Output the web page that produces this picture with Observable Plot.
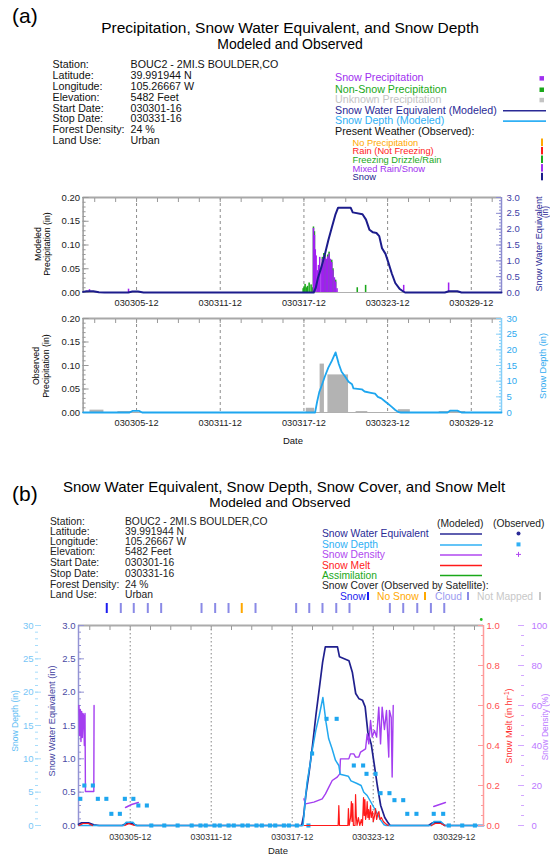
<!DOCTYPE html>
<html><head><meta charset="utf-8">
<script src="https://cdn.jsdelivr.net/npm/d3@7"></script>
<script src="https://cdn.jsdelivr.net/npm/@observablehq/plot@0.6"></script>
<style>
html,body{margin:0;padding:0;background:#fff;}
#page{position:relative;width:550px;height:856px;overflow:hidden;background:#fff;}
#page svg{position:absolute;left:0;overflow:visible;}
</style></head><body><div id="page"></div>
<script>
// ---------------- data ----------------
const tickLabels = ["030305-12","030311-12","030317-12","030323-12","030329-12"];
const periodLabels = ["030301-16","030331-16"];

const infoLabels = ["Station:","Latitude:","Longitude:","Elevation:","Start Date:","Stop Date:","Forest Density:","Land Use:"];
const infoValues = ["BOUC2 - 2MI.S BOULDER,CO","39.991944 N","105.26667 W","5482 Feet","030301-16","030331-16","24 %","Urban"];

// day-of-March (decimal) and values
const snowPrecipDay = [2.16,4.96,18.22,18.29,18.35,18.41,18.51,18.58,18.67,18.77,18.86,18.96,19.05,19.15,19.24,19.34,19.43,19.53,19.62,19.72,19.81,19.91,24.69,27.91];
const snowPrecipIn  = [0.006,0.007,0.135,0.12,0.09,0.077,0.046,0.057,0.074,0.05,0.07,0.077,0.074,0.07,0.075,0.081,0.07,0.063,0.046,0.031,0.022,0.008,0.015,0.02];
const nonSnowPrecipDay = [17.48,17.55,17.62,17.72,17.79,17.91,18.05,18.15,18.22,18.29,18.86,18.96,19.05,19.24,19.34,19.53,19.62,19.81,21.36,21.96];
const nonSnowPrecipIn  = [0.008,0.012,0.017,0.01,0.013,0.02,0.016,0.01,0.138,0.128,0.074,0.082,0.079,0.079,0.085,0.068,0.05,0.026,0.01,0.015];

const obsPrecipFrom = [2.16,4.16,17.67,18.66,19.22,21.24,24.27,27.2];
const obsPrecipTo   = [3.16,5.16,18.27,18.97,20.70,22.08,25.13,29.1];
const obsPrecipIn   = [0.005,0.002,0.009,0.103,0.08,0.002,0.006,0.002];

const sweDay = [1.667,1.9,2.4,2.8,3.2,4.9,5.2,5.6,6.0,18.2,18.35,18.5,18.75,19.0,19.25,19.5,19.75,19.95,20.85,21.0,21.7,21.95,22.2,22.45,22.7,22.9,23.1,23.35,23.55,23.8,24.05,24.35,24.6,24.75,27.6,27.9,28.5,28.8,31.667];
const sweIn  = [0.02,0.04,0.04,0.01,0,0,0.03,0.03,0,0,0.15,0.45,0.8,1.2,1.65,2.05,2.45,2.68,2.68,2.53,2.47,2.3,1.98,1.9,1.88,1.78,1.4,1.22,0.95,0.6,0.3,0.12,0.04,0,0,0.04,0.04,0,0];

const depthDay = [1.667,5.0,5.2,5.7,5.9,18.3,18.45,18.6,18.75,19.0,19.25,19.5,19.77,20.0,20.2,20.45,20.7,20.95,21.05,21.65,21.85,22.3,22.6,22.8,23.05,23.3,23.55,23.8,24.05,24.3,24.45,27.8,28.0,28.5,28.8,31.667];
const depthIn  = [0,0,0.5,0.5,0,0,3.5,6.5,8.3,11.5,14.3,16.5,19.2,15.5,13,11.5,9.8,9.0,7.7,7.4,6.7,6.3,6.0,5.0,4.5,3.6,2.7,1.8,0.8,0.1,0,0,0.6,0.6,0,0];

const obsDepthDay = [1.8,2.1,2.73,3.1,3.73,4.1,4.73,5.1,5.73,6.1,6.73,7.06,8.02,9.01,10.05,10.7,11.09,11.74,12.13,12.78,13.17,13.81,14.21,14.85,15.25,15.85,16.24,16.88,17.25,17.84,18.7,18.97,20.04,20.79,22.06,22.75,23.0,23.67,24.04,24.7,25.07,25.72,26.02,26.7,27.98,28.68,29.1,30.09,31.03];
const obsDepthIn  = [4,6,6,4,4,1.75,1.75,4,4,3,3,0,0,0,0,0,0,0,0,0,0,0,0,0,0,0,0,0,0,0,0,10.8,16,16,9,9,7.75,7.75,4.85,4.85,3.8,3.8,1.75,1.75,1.75,1.75,0,0,0];

const densityDay = [1.7,1.75,1.8,1.85,1.9,1.95,2.0,2.05,2.1,2.15,2.18,2.8,2.82,2.83,5.15,5.6,6.1,6.11,18.36,18.48,19.1,19.72,19.96,20.21,20.46,20.83,21.02,21.07,21.69,21.81,22.06,22.19,22.43,22.56,22.93,23.05,23.17,23.3,23.42,23.59,23.75,23.91,24.04,24.16,24.33,24.48,24.65,24.7,24.83,24.9,24.98,24.99,27.98,28.85];
const densityPct = [60,45,58,42,57,44,56,55,40,56,17,17,60,null,9,10.5,11.5,null,13.3,10.8,11.7,13.3,15.8,19.2,22.5,24.2,25.8,33.3,33.3,35.8,35.8,34.2,34.2,36.7,38.3,45.8,40.8,52.5,44.2,47.5,44.2,59.2,40.8,59.2,48,57.5,34.2,57.5,54,24.2,60,null,9.5,11.5];

const meltDay = [1.7,2.0,2.4,2.7,2.71,5.1,5.4,5.8,5.81,18.4,20.9,20.95,21.0,21.62,21.66,21.72,21.82,21.88,21.93,21.98,22.03,22.15,22.19,22.24,22.3,22.4,22.5,22.62,22.7,22.78,22.83,22.88,22.93,23.0,23.05,23.1,23.15,23.2,23.3,23.35,23.45,23.5,23.6,23.67,23.75,23.85,23.92,24.0,24.1,24.25,24.4,24.6,24.61,27.8,28.1,28.5,28.8];
const meltInHr = [0,0.01,0.01,0,null,0,0.01,0,null,0,0,0.1,0,0,0.085,0,0.04,0.12,0.02,0.11,0,0,0.155,0.05,0,0.04,0,0.03,0,0.14,0.05,0.13,0.03,0.06,0.12,0.04,0.08,0.03,0.1,0.04,0.07,0.02,0.05,0.085,0.03,0.06,0.07,0.03,0.04,0.02,0.01,0,null,0,0.01,0.01,0];

const coverDay  = [3.76,4.80,5.76,6.80,7.79,10.78,11.79,12.78,13.76,14.78,17.79,18.76,19.74,20.76,21.74,24.73,25.72,26.76,27.77,28.76];
const coverType = ["Snow","Cloud","Cloud","Cloud","Cloud","Cloud","Cloud","Cloud","No Snow","Cloud","Cloud","Cloud","Cloud","Cloud","Cloud","Cloud","Cloud","Cloud","Cloud","Cloud"];
const assimDay = [31.5];

// ---------------- helpers ----------------
const FONT = '"Liberation Sans", Arial, Helvetica, sans-serif';
const page = document.getElementById("page");
const DAY = 864e5;
const toDate = d => new Date(Date.UTC(2003, 2, 1) + (d - 1) * DAY);
const parseT = d3.utcParse("%y%m%d-%H");
const fmtT = d3.utcFormat("%y%m%d-%H");
const xDomain = periodLabels.map(parseT);
const tickDates = tickLabels.map(parseT);
const minorDates = d3.range(-4, 22).map(k => new Date(+tickDates[0] + k * 1.5 * DAY)).filter(d => d > xDomain[0] && d < xDomain[1]);

const zipS = (ts, vs) => ts.map((t, i) => ({t: toDate(t), v: vs[i]}));
const snowPrecip = zipS(snowPrecipDay, snowPrecipIn);
const nonSnowPrecip = zipS(nonSnowPrecipDay, nonSnowPrecipIn);
const obsPrecip = obsPrecipFrom.map((f, i) => ({t1: toDate(f), t2: toDate(obsPrecipTo[i]), v: obsPrecipIn[i]}));
const swe = zipS(sweDay, sweIn);
const depth = zipS(depthDay, depthIn);
const obsDepth = zipS(obsDepthDay, obsDepthIn);
const density = zipS(densityDay, densityPct);
const melt = zipS(meltDay, meltInHr);
const coverColor = {"Snow": "#1c1cf0", "No Snow": "#ffa800", "Cloud": "#8a8ae6", "Not Mapped": "#c8c8c8"};
const cover = coverDay.map((d, i) => ({t: toDate(d), c: coverColor[coverType[i]]}));
const assim = assimDay.map(d => ({t: toDate(d)}));
const HALF = 0.055 * DAY;

function chart(top, height, m, yOpts, marks) {
  const svg = Plot.plot({
    width: 550, height, marginTop: m[0], marginRight: m[1], marginBottom: m[2], marginLeft: m[3],
    x: {type: "utc", domain: xDomain, axis: null},
    y: Object.assign({axis: null}, yOpts),
    marks,
    style: {background: "transparent", overflow: "visible", fontFamily: FONT, fontSize: "9.5px", color: "#000"}
  });
  svg.style.position = "absolute"; svg.style.left = "0px"; svg.style.top = top + "px";
  page.appendChild(svg);
  return svg;
}
function yAxis(anchor, major, minor, fmt, tickColor, labelColor, pad, fs) {
  return [
    Plot.axisY({anchor, ticks: minor, tickSize: -3, tickFormat: () => "", color: tickColor, label: null}),
    Plot.axisY({anchor, ticks: major, tickSize: -6, tickFormat: () => "", color: tickColor, label: null}),
    Plot.axisY({anchor, ticks: major, tickSize: 0, tickPadding: pad, tickFormat: d3.format(fmt), color: labelColor, label: null, fontSize: fs})
  ];
}
const rng = (a, b, s) => d3.range(a, b + s / 2, s).map(v => +v.toFixed(4));

// ---------------- panel (a) top: modeled precipitation + SWE ----------------
const mA = [10, 49, 25, 82.6];
chart(187, 130, mA, {domain: [0, 0.2]}, [
  Plot.ruleX(tickDates, {stroke: "#8c8c8c", strokeDasharray: "3,3"}),
  Plot.rectY(nonSnowPrecip, {x1: d => new Date(+d.t - HALF), x2: d => new Date(+d.t + HALF), y: "v", fill: "#1aa81a"}),
  Plot.rectY(snowPrecip, {x1: d => new Date(+d.t - HALF), x2: d => new Date(+d.t + HALF), y: "v", fill: "#a020f0"}),
  Plot.ruleY([0.2], {stroke: "#a8a8a8", strokeWidth: 2}),
  Plot.ruleY([0], {stroke: "#b0b0b0"}),
  Plot.ruleX([xDomain[0]], {stroke: "#9a9a9a", strokeWidth: 1.5}),
  Plot.axisX({anchor: "top", ticks: minorDates, tickSize: -4, tickFormat: () => "", color: "#999", label: null}),
  Plot.axisX({anchor: "bottom", ticks: tickDates, tickSize: 0, tickPadding: 7, tickFormat: fmtT, color: "#222", label: null, fontSize: 9.2}),
  ...yAxis("left", rng(0, 0.2, 0.05), rng(0, 0.2, 0.01), ".2f", "#999", "#1a1a1a", 3, 9.5)
]);
chart(187, 130, mA, {domain: [0, 3]}, [
  Plot.ruleX([xDomain[1]], {stroke: "#8c8cd0", strokeWidth: 1.5}),
  ...yAxis("right", rng(0, 3, 0.5), rng(0, 3, 0.1), ".1f", "#8c8cd0", "#3e3ea6", 5, 9.5),
  Plot.line(swe, {x: "t", y: "v", stroke: "#1c1c8c", strokeWidth: 2})
]);

// ---------------- panel (a) bottom: observed precipitation + depth ----------------
const mB = [10, 49, 46, 82.6];
chart(308, 150, mB, {domain: [0, 0.2]}, [
  Plot.ruleX(tickDates, {stroke: "#8c8c8c", strokeDasharray: "3,3"}),
  Plot.rectY(obsPrecip, {x1: "t1", x2: "t2", y: "v", fill: "#b3b3b3"}),
  Plot.ruleY([0.2], {stroke: "#a8a8a8", strokeWidth: 2}),
  Plot.ruleY([0], {stroke: "#b0b0b0"}),
  Plot.ruleX([xDomain[0]], {stroke: "#9a9a9a", strokeWidth: 1.5}),
  Plot.axisX({anchor: "top", ticks: minorDates, tickSize: -4, tickFormat: () => "", color: "#999", label: null}),
  Plot.axisX({anchor: "bottom", ticks: tickDates, tickSize: 0, tickPadding: 7, tickFormat: fmtT, color: "#222", label: null, fontSize: 9.2}),
  ...yAxis("left", rng(0, 0.2, 0.05), rng(0, 0.2, 0.01), ".2f", "#999", "#1a1a1a", 3, 9.5)
]);
chart(308, 150, mB, {domain: [0, 30]}, [
  Plot.ruleX([xDomain[1]], {stroke: "#86cff8", strokeWidth: 1.5}),
  ...yAxis("right", rng(0, 30, 5), rng(0, 30, 1), "d", "#86cff8", "#2eaaf0", 5, 9.5),
  Plot.line(depth, {x: "t", y: "v", stroke: "#1ea6ef", strokeWidth: 1.8})
]);

// ---------------- panel (b) ----------------
const mC = [10, 67, 30, 78];
chart(615, 240, mC, {domain: [0, 3]}, [
  Plot.ruleX(tickDates, {stroke: "#9a9a9a", strokeDasharray: "1.5,2.5", strokeWidth: 1.2}),
  Plot.ruleY([3], {stroke: "#ababab", strokeWidth: 2}),
  Plot.ruleX([xDomain[0]], {stroke: "#9494d4", strokeWidth: 1.5}),
  Plot.axisX({anchor: "top", ticks: minorDates, tickSize: -4, tickFormat: () => "", color: "#999", label: null}),
  Plot.axisX({anchor: "bottom", ticks: tickDates, tickSize: 0, tickPadding: 8, tickFormat: fmtT, color: "#333", label: null, fontSize: 8.8}),
  ...yAxis("left", rng(0, 3, 0.5), rng(0, 3, 0.1), ".1f", "#9494d4", "#4a4aa4", 3, 9.5),
  Plot.line(swe, {x: "t", y: "v", stroke: "#20208e", strokeWidth: 1.7})
]);
chart(615, 240, mC, {domain: [0, 100]}, [
  Plot.line(density, {x: "t", y: "v", stroke: "#a43ef0", strokeWidth: 1.4})
]);
chart(615, 240, mC, {domain: [0, 30]}, [
  Plot.line(depth, {x: "t", y: "v", stroke: "#22a8ef", strokeWidth: 1.5}),
  Plot.dot(obsDepth, {x: "t", y: "v", symbol: "square", fill: "#1ea6ef", r: 2.3})
]);
chart(615, 240, mC, {domain: [0, 1]}, [
  Plot.line(melt, {x: "t", y: "v", stroke: "#ff1a1a", strokeWidth: 1.2}),
  Plot.ruleX([xDomain[1]], {stroke: "#ff9b9b", strokeWidth: 1.5}),
  ...yAxis("right", rng(0, 1, 0.2), rng(0, 1, 0.05), ".1f", "#ff9b9b", "#ff5050", 3, 9.5)
]);
// separate axes for snow depth (left) and density (right)
chart(615, 240, [10, 515, 30, 35], {domain: [0, 30]}, [
  Plot.axisY({anchor: "left", ticks: [0, 30], tickSize: 0, tickFormat: () => "", label: null}),
  ...yAxis("left", rng(0, 30, 5), rng(0, 30, 1), "d", "#a6dcfb", "#78c6f6", 2, 9.5)
]);
chart(615, 240, [10, 27, 30, 500], {domain: [0, 100]}, [
  ...yAxis("right", rng(0, 100, 20), rng(0, 100, 5), "d", "#d2a6ff", "#bb77ff", 8, 9.5)
]);
// snow cover strip and assimilation marker
chart(603, 10, [0, 67, 0, 78], {}, [
  Plot.ruleX(cover, {x: "t", stroke: "c", strokeWidth: 2})
]);
chart(616, 6, [0, 67, 0, 78], {}, [
  Plot.dot(assim, {x: "t", fill: "#22bb22", r: 1.4})
]);

// ---------------- text overlay ----------------
const ov = d3.create("svg").attr("width", 550).attr("height", 856)
  .style("position", "absolute").style("left", "0px").style("top", "0px")
  .attr("font-family", FONT);
function txt(x, y, s, o = {}) {
  const t = ov.append("text").attr("x", x).attr("y", y).text(s)
    .attr("font-size", o.fs || 10.7).attr("fill", o.fill || "#111");
  if (o.anchor) t.attr("text-anchor", o.anchor);
  if (o.rot) t.attr("transform", `rotate(-90 ${x} ${y})`);
  return t;
}
// panel (a)
txt(12, 23, "(a)", {fs: 21, fill: "#000"});
txt(290, 32.6, "Precipitation, Snow Water Equivalent, and Snow Depth", {fs: 15.5, anchor: "middle", fill: "#000"});
txt(290, 48.6, "Modeled and Observed", {fs: 14, anchor: "middle", fill: "#000"});
const infoAY = [67.8, 78.8, 89.8, 100.5, 111.5, 122.1, 132.8, 143.8];
infoLabels.forEach((s, i) => { txt(52.6, infoAY[i], s); txt(130.5, infoAY[i], infoValues[i]); });
const legA = [
  ["Snow Precipitation", "#a030f0", 81.1, "sq"],
  ["Non-Snow Precipitation", "#1aa81a", 92.5, "sq"],
  ["Unknown Precipitation", "#c4c4c4", 102.8, "sq"],
  ["Snow Water Equivalent (Modeled)", "#2a2a96", 113.8, "line"],
  ["Snow Depth (Modeled)", "#30b0f5", 124.1, "line"],
  ["Present Weather (Observed):", "#111", 134.5, null]
];
legA.forEach(([s, c, y, sym]) => {
  txt(335, y, s, {fill: c});
  if (sym === "sq") ov.append("rect").attr("x", 539.5).attr("y", y - 5).attr("width", 4.5).attr("height", 4.5).attr("fill", c);
  if (sym === "line") ov.append("line").attr("x1", 503).attr("x2", 546).attr("y1", y - 3).attr("y2", y - 3).attr("stroke", c).attr("stroke-width", 1.6);
});
const legA2 = [
  ["No Precipitation", "#ffa800", 146],
  ["Rain (Not Freezing)", "#ff1a1a", 154.4],
  ["Freezing Drizzle/Rain", "#1aa81a", 163],
  ["Mixed Rain/Snow", "#a030f0", 171.6],
  ["Snow", "#1c1c8c", 180.3]
];
legA2.forEach(([s, c, y]) => {
  txt(352.6, y, s, {fs: 9.3, fill: c});
  ov.append("rect").attr("x", 541).attr("y", y - 7.5).attr("width", 2).attr("height", 7.5).attr("fill", c);
});
txt(40.5, 244, "Modeled", {fs: 8.8, anchor: "middle", rot: true, fill: "#000"});
txt(50, 244, "Precipitation (in)", {fs: 8.8, anchor: "middle", rot: true, fill: "#000"});
txt(541.5, 244, "Snow Water Equivalent", {fs: 9.2, anchor: "middle", rot: true, fill: "#2a2a96"});
txt(547.5, 212, "(in)", {fs: 8.4, anchor: "middle", rot: true, fill: "#2a2a96"});
txt(39, 366, "Observed", {fs: 8.8, anchor: "middle", rot: true, fill: "#000"});
txt(48.5, 366, "Precipitation (in)", {fs: 8.8, anchor: "middle", rot: true, fill: "#000"});
txt(545.5, 366, "Snow Depth (in)", {fs: 9.2, anchor: "middle", rot: true, fill: "#2eaaf0"});
txt(293, 443.5, "Date", {fs: 9.5, anchor: "middle", fill: "#111"});

// panel (b)
txt(12, 501, "(b)", {fs: 21, fill: "#000"});
txt(284, 492.4, "Snow Water Equivalent, Snow Depth, Snow Cover, and Snow Melt", {fs: 15, anchor: "middle", fill: "#000"});
txt(280, 507.2, "Modeled and Observed", {fs: 13.6, anchor: "middle", fill: "#000"});
const infoBY = [525.3, 535.3, 545.3, 555.3, 566.3, 576.9, 587.6, 597.6];
infoLabels.forEach((s, i) => { txt(50, infoBY[i], s, {fs: 10.3, fill: "#222"}); txt(125, infoBY[i], infoValues[i], {fs: 10.3, fill: "#222"}); });
txt(437, 527, "(Modeled)", {fs: 10.3, fill: "#222"});
txt(493, 527, "(Observed)", {fs: 10.3, fill: "#222"});
const legB = [
  ["Snow Water Equivalent", "#2a2a96", 536.9, "dot"],
  ["Snow Depth", "#30b0f5", 547.9, "sq"],
  ["Snow Density", "#b048f0", 557.9, "plus"],
  ["Snow Melt", "#ff1a1a", 568.6, null],
  ["Assimilation", "#1aa81a", 578.6, null]
];
legB.forEach(([s, c, y, obs]) => {
  txt(322, y, s, {fs: 10.3, fill: c});
  ov.append("line").attr("x1", 440).attr("x2", 482).attr("y1", y - 3).attr("y2", y - 3).attr("stroke", c).attr("stroke-width", 1.5);
  if (obs === "dot") ov.append("circle").attr("cx", 518.5).attr("cy", y - 3.5).attr("r", 2).attr("fill", c);
  if (obs === "sq") ov.append("rect").attr("x", 516.5).attr("y", y - 5.5).attr("width", 4).attr("height", 4).attr("fill", c);
  if (obs === "plus") ov.append("path").attr("d", `M516,${y - 3.5}h5M518.5,${y - 6}v5`).attr("stroke", c).attr("stroke-width", 1);
});
txt(322, 588.6, "Snow Cover (Observed by Satellite):", {fs: 10.3, fill: "#222"});
const coverLegend = [["Snow", 340, 368], ["No Snow", 377, 425], ["Cloud", 435, 468], ["Not Mapped", 477, 540]];
coverLegend.forEach(([s, x, bx]) => {
  txt(x, 599.6, s, {fs: 10.3, fill: s === "Cloud" ? "#9a9af0" : coverColor[s]});
  ov.append("rect").attr("x", bx - 1).attr("y", 592).attr("width", 2).attr("height", 8).attr("fill", coverColor[s]);
});
txt(18, 721, "Snow Depth (in)", {fs: 8.6, anchor: "middle", rot: true, fill: "#5cbcf4"});
txt(55, 721, "Snow Water Equivalent (in)", {fs: 9.2, anchor: "middle", rot: true, fill: "#3e3ea0"});
const melt_t = txt(511.5, 726, "Snow Melt (in hr", {fs: 9.2, anchor: "middle", rot: true, fill: "#ff3030"});
melt_t.append("tspan").attr("dy", -3).attr("font-size", 6.5).text("-1");
melt_t.append("tspan").attr("dy", 3).text(")");
txt(548, 727, "Snow Density (%)", {fs: 8.4, anchor: "middle", rot: true, fill: "#bb77ff"});
txt(278, 854, "Date", {fs: 9.5, anchor: "middle", fill: "#222"});

page.appendChild(ov.node());
</script></body></html>
